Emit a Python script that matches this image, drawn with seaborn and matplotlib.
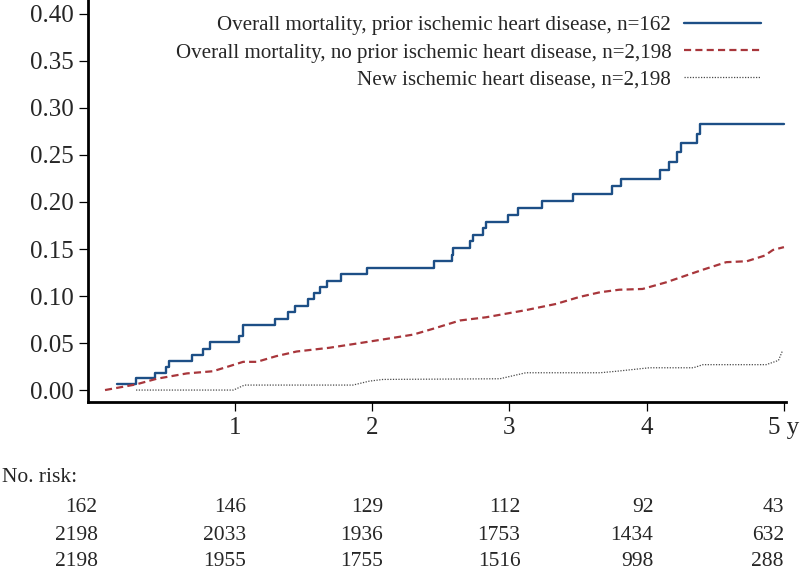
import numpy as np
import pandas as pd
import matplotlib
matplotlib.use("Agg")
import matplotlib.pyplot as plt
import seaborn as sns

# step curve: overall mortality, prior ischemic heart disease
prior_t = [0.14, 0.28, 0.42, 0.50, 0.52, 0.69, 0.77, 0.82, 1.03, 1.06, 1.29, 1.39,
           1.44, 1.53, 1.575, 1.62, 1.67, 1.77, 1.96, 2.45, 2.58, 2.59, 2.71, 2.735,
           2.81, 2.83, 2.99, 3.06, 3.24, 3.46, 3.75, 3.81, 4.10, 4.16, 4.22, 4.25,
           4.37, 4.39, 5.00]
prior_v = [0.006, 0.0124, 0.018, 0.024, 0.031, 0.0375, 0.044, 0.0506, 0.057, 0.0696,
           0.076, 0.083, 0.0898, 0.0965, 0.103, 0.1096, 0.116, 0.123, 0.130, 0.137,
           0.1438, 0.151, 0.158, 0.165, 0.172, 0.179, 0.186, 0.1936, 0.201, 0.209,
           0.2166, 0.2244, 0.2336, 0.2427, 0.2527, 0.2625, 0.2728, 0.2827, 0.2827]

# overall mortality, no prior ischemic heart disease
noprior_t = [0.054, 0.28, 0.43, 0.65, 0.84, 0.96, 1.06, 1.16, 1.30, 1.45, 1.69, 1.89,
             2.13, 2.30, 2.44, 2.64, 2.83, 3.12, 3.34, 3.51, 3.66, 3.80, 3.97, 4.14,
             4.27, 4.41, 4.58, 4.73, 4.86, 4.92, 5.00]
noprior_v = [0.0, 0.006, 0.012, 0.0177, 0.020, 0.0254, 0.030, 0.030, 0.036, 0.041,
             0.045, 0.0495, 0.055, 0.059, 0.065, 0.074, 0.0774, 0.085, 0.0916, 0.099,
             0.104, 0.1067, 0.1075, 0.1145, 0.121, 0.128, 0.136, 0.137, 0.143, 0.149,
             0.152]

# new ischemic heart disease
new_t = [0.28, 0.99, 1.07, 1.86, 1.98, 2.08, 2.93, 3.12, 3.66, 3.78, 4.02, 4.34,
         4.41, 4.87, 4.96, 4.99]
new_v = [0.0, 0.0, 0.0053, 0.0053, 0.0095, 0.0113, 0.012, 0.0184, 0.0184, 0.020,
         0.0237, 0.0237, 0.027, 0.027, 0.0315, 0.042]

labels = ["Overall mortality, prior ischemic heart disease, n=162",
          "Overall mortality, no prior ischemic heart disease, n=2,198",
          "New ischemic heart disease, n=2,198"]

risk_times = [0, 1, 2, 3, 4, 5]
risk_prior = [162, 146, 129, 112, 92, 43]
risk_noprior = [2198, 2033, 1936, 1753, 1434, 632]
risk_new = [2198, 1955, 1755, 1516, 998, 288]

sns.set_style("ticks")
plt.rcParams["font.family"] = ["Liberation Serif", "DejaVu Serif"]

fig = plt.figure(figsize=(8, 5.69), dpi=100)
ax = fig.add_axes([0.11, 0.2935, 0.8725, 0.7065])

sns.lineplot(x=prior_t, y=prior_v, ax=ax, color="#1d4f86", lw=1.7,
             drawstyle="steps-post", estimator=None, sort=False, label=labels[0])
sns.lineplot(x=noprior_t, y=noprior_v, ax=ax, color="#a8363b", lw=1.6,
             linestyle=(0, (3.2, 1.9)), estimator=None, sort=False, label=labels[1])
sns.lineplot(x=new_t, y=new_v, ax=ax, color="#4a4a4a", lw=0.9,
             linestyle=(0, (1, 1.2)), estimator=None, sort=False, label=labels[2])

ax.set_xlim(-0.07, 5.015)
ax.set_ylim(-0.0127, 0.4148)
ax.set_yticks(np.arange(0, 0.41, 0.05))
ax.set_yticklabels([f"{v:.2f}" for v in np.arange(0, 0.41, 0.05)])
ax.set_xticks([1, 2, 3, 4, 5])
ax.set_xticklabels(["1", "2", "3", "4", "5 y"])
ax.tick_params(axis="both", labelsize=18, width=0.9, length=6.5, pad=4, color="black")
sns.despine(ax=ax)
for s in ["left", "bottom"]:
    ax.spines[s].set_linewidth(2)
    ax.spines[s].set_color("black")
ax.set_xlabel("")
ax.set_ylabel("")

leg = ax.legend(loc="upper right", bbox_to_anchor=(0.9915, 1.008), frameon=False,
                markerfirst=False, fontsize=15.1, handlelength=3.67,
                handletextpad=0.62, labelspacing=0.36)

# number at risk table (small horizontal nudges per column, in data units)
nudge = [0.0, 0.08, 0.08, 0.08, 0.05, 0.0]
fig.text(0.003, 1 - 477 / 569, "No. risk:", fontsize=15.5, ha="left", va="center")
rows_y = [508, 535, 561]
for row, yy in zip([risk_prior, risk_noprior, risk_new], rows_y):
    for t, n, dx in zip(risk_times, row, nudge):
        xf = ax.transData.transform((t + dx, 0))[0] / fig.bbox.width
        fig.text(xf, 1 - yy / 569, str(n), fontsize=15.5, ha="right", va="center")

fig.savefig("out.png", dpi=100)
